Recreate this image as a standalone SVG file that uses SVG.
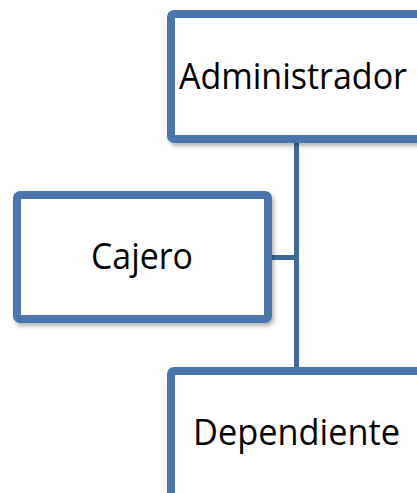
<svg xmlns="http://www.w3.org/2000/svg" width="417" height="493" viewBox="0 0 417 493">
<defs>
<filter id="sh" x="-10%" y="-10%" width="130%" height="130%">
<feDropShadow dx="2" dy="3" stdDeviation="2" flood-color="#000" flood-opacity="0.3"/>
</filter>
</defs>
<style>
.box{fill:#fff;stroke:#4A76AC;stroke-width:8;filter:url(#sh)}
.lbl{font-family:"Open Sans","Liberation Sans",Arial,sans-serif;font-size:36px;fill:#000}
.conn{stroke:#41689A;stroke-width:5;fill:none}
</style>
<rect width="417" height="493" fill="#fff"/>
<g id="connectors">
<line class="conn" x1="296.5" y1="143" x2="296.5" y2="368"/>
<line class="conn" x1="272" y1="257.5" x2="296.5" y2="257.5"/>
</g>
<g id="administrador">
<rect class="box" x="171" y="14" width="270" height="125" rx="3"/>
<text class="lbl" x="179" y="89" textLength="228" lengthAdjust="spacingAndGlyphs">Administrador</text>
</g>
<g id="cajero">
<rect class="box" x="17" y="195" width="251" height="124" rx="3"/>
<text class="lbl" x="91" y="269" textLength="102" lengthAdjust="spacingAndGlyphs">Cajero</text>
</g>
<g id="dependiente">
<rect class="box" x="171" y="371" width="270" height="150" rx="3"/>
<text class="lbl" x="193" y="445" textLength="207" lengthAdjust="spacingAndGlyphs">Dependiente</text>
</g>
</svg>
